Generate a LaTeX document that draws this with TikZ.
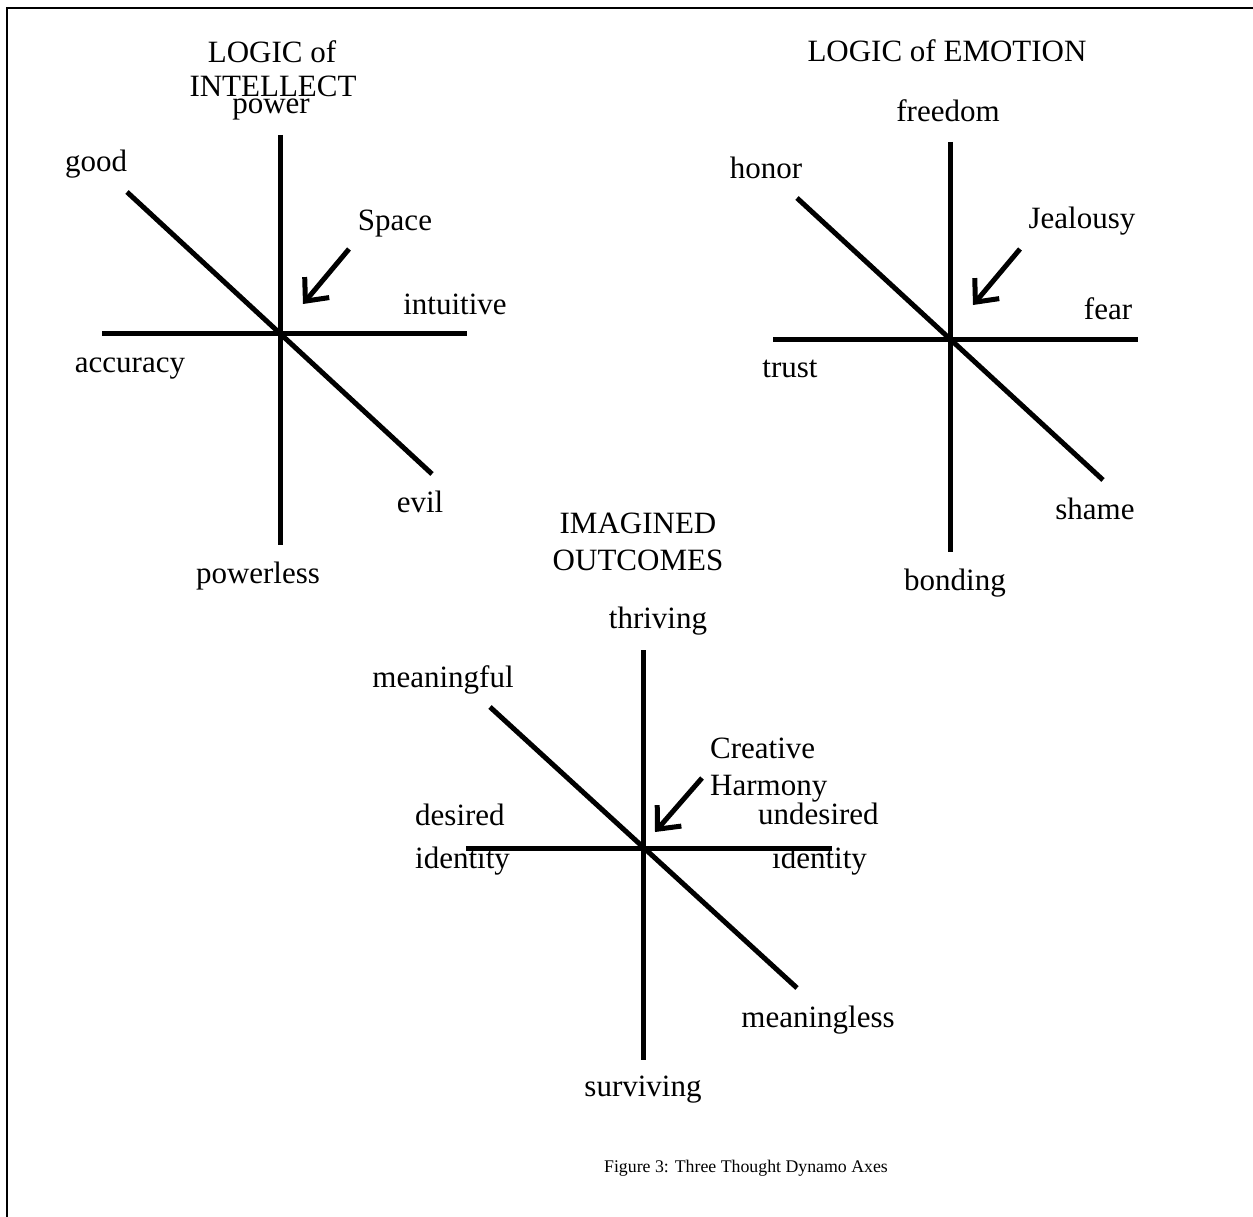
\documentclass[tikz,border=0pt]{standalone}
\usepackage{fontspec}
\setmainfont{Liberation Serif}
\usetikzlibrary{arrows.meta}
\begin{document}
\begin{tikzpicture}[x=1pt,y=-1pt,
  lbl/.style={inner sep=0pt, anchor=base, font=\fontsize{31}{37}\selectfont},
  lbll/.style={lbl, anchor=base west},
  ttl/.style={inner sep=0pt, anchor=base, font=\fontsize{31}{34}\selectfont},
  axis/.style={line width=5pt},
  pointer/.style={line width=5pt, -{Straight Barb[length=18pt,width=32pt]}},
  frameline/.style={line width=2.5pt}]
\useasboundingbox (0,0) rectangle (1253,1217);
\draw[frameline] (7,1217) -- (7,8) -- (1253,8);

% ---------- texts ----------
% diagram 1
\node[ttl] (t1a) at (272,63) {LOGIC of};
\node[ttl] (t1b) at (273,97) {INTELLECT};
\node[lbl] (power) at (271,114) {power};
\node[lbl] (good) at (96,172) {good};
\node[lbl] (space) at (395,230) {Space};
\node[lbl] (intuitive) at (455,314) {intuitive};
\node[lbl] (accuracy) at (130,372) {accuracy};
\node[lbl] (evil) at (420,512) {evil};
\node[lbl] (powerless) at (258,583) {powerless};
% diagram 2
\node[ttl] (t2) at (947,62) {LOGIC of EMOTION};
\node[lbl] (freedom) at (948,122) {freedom};
\node[lbl] (honor) at (766,179) {honor};
\node[lbl] (jealousy) at (1082,229) {Jealousy};
\node[lbl] (fear) at (1108,319) {fear};
\node[lbl] (trust) at (790,377) {trust};
\node[lbl] (shame) at (1095,519) {shame};
\node[lbl] (bonding) at (955,590) {bonding};
% diagram 3
\node[ttl] (t3a) at (638,533) {IMAGINED};
\node[ttl] (t3b) at (638,570) {OUTCOMES};
\node[lbl] (thriving) at (658,628) {thriving};
\node[lbl] (meaningful) at (443,687) {meaningful};
\node[lbll] (creative) at (710,758) {Creative};
\node[lbll] (harmony) at (710,795) {Harmony};
\node[lbll] (desired) at (415,825) {desired};
\node[lbll] (idl) at (415,868) {identity};
\node[lbll] (undesired) at (758,824) {undesired};
\node[lbll] (idr) at (772,868) {identity};
\node[lbl] (meaningless) at (818,1027) {meaningless};
\node[lbl] (surviving) at (643,1096) {surviving};
% caption
\node[inner sep=0pt, anchor=base, font=\fontsize{17.8}{20}\selectfont] (caption) at (746,1172) {Figure 3: Three Thought Dynamo Axes};

% ---------- axes ----------
% diagram 1
\coordinate (a1t) at (280,135); \coordinate (a1b) at (280,545);
\coordinate (a1l) at (102,333); \coordinate (a1r) at (467,333);
\coordinate (a1d1) at (127,192); \coordinate (a1d2) at (432,474);
\coordinate (s1) at (349,249); \coordinate (s1tip) at (303,304);
\draw[axis] (a1t) -- (a1b);
\draw[axis] (a1l) -- (a1r);
\draw[axis] (a1d1) -- (a1d2);
\draw[pointer] (s1) -- (s1tip);
% diagram 2
\coordinate (a2t) at (950,142); \coordinate (a2b) at (950,552);
\coordinate (a2l) at (773,339); \coordinate (a2r) at (1138,339);
\coordinate (a2d1) at (797,198); \coordinate (a2d2) at (1103,480);
\coordinate (s2) at (1020,249); \coordinate (s2tip) at (973,305);
\draw[axis] (a2t) -- (a2b);
\draw[axis] (a2l) -- (a2r);
\draw[axis] (a2d1) -- (a2d2);
\draw[pointer] (s2) -- (s2tip);
% diagram 3
\coordinate (a3t) at (643,650); \coordinate (a3b) at (643,1060);
\coordinate (a3l) at (466,848); \coordinate (a3r) at (832,848);
\coordinate (a3d1) at (490,707); \coordinate (a3d2) at (797,988);
\coordinate (s3) at (702,778); \coordinate (s3tip) at (655,832);
\draw[axis] (a3t) -- (a3b);
\draw[axis] (a3l) -- (a3r);
\draw[axis] (a3d1) -- (a3d2);
\draw[pointer] (s3) -- (s3tip);
\end{tikzpicture}
\end{document}
